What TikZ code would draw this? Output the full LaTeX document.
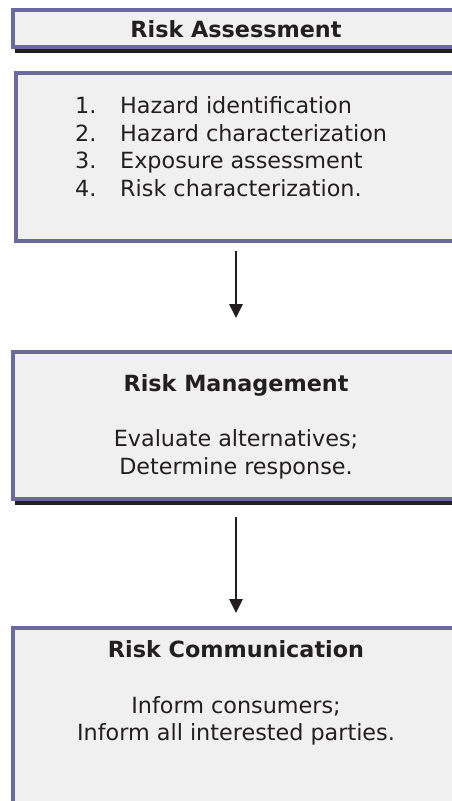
\documentclass[tikz,border=0pt]{standalone}
\usepackage{fontspec}
\setmainfont{DejaVu Sans}
\usetikzlibrary{arrows.meta}
\definecolor{boxfill}{HTML}{F0F0F0}
\definecolor{boxedge}{HTML}{6A6A9C}
\definecolor{ink}{HTML}{231F20}
\begin{document}
\begin{tikzpicture}[x=1pt,y=-1pt,
  panel/.style={fill=boxfill, draw=boxedge, line width=4pt, anchor=north west,
    inner sep=0pt, outer sep=0pt, minimum width=467pt},
  shade/.style={fill=ink, draw=none, anchor=north west, inner sep=0pt, outer sep=0pt},
  txt/.style={anchor=base, inner sep=0pt, text=ink, font=\fontsize{22.3}{27.8}\selectfont},
  hd/.style={txt, font=\fontsize{22.3}{27.8}\selectfont\bfseries},
  flow/.style={draw=ink, line width=2.7pt, -{Triangle[length=14pt,width=13pt]}}]
  \useasboundingbox (0,0) rectangle (452,801);

  % Risk Assessment title bar with drop shadow
  \node[shade, minimum width=469pt, minimum height=41pt] (s1) at (15,12) {};
  \node[panel, minimum height=37pt] (assess) at (13,10) {};
  \node[hd] (assesst) at (236,37.7) {Risk Assessment};

  % Assessment steps
  \node[panel, minimum height=167.7pt] (steps) at (16,73) {};
  \node[txt, anchor=base west] (n1) at (75,113.3) {1.};
  \node[txt, anchor=base west] (i1) at (120,113.3) {Hazard identification};
  \node[txt, anchor=base west] (n2) at (75,141.1) {2.};
  \node[txt, anchor=base west] (i2) at (120,141.1) {Hazard characterization};
  \node[txt, anchor=base west] (n3) at (75,168.9) {3.};
  \node[txt, anchor=base west] (i3) at (120,168.9) {Exposure assessment};
  \node[txt, anchor=base west] (n4) at (75,196.7) {4.};
  \node[txt, anchor=base west] (i4) at (120,196.7) {Risk characterization.};

  % Risk Management with drop shadow
  \node[shade, minimum width=469pt, minimum height=151pt] (s3) at (15,354) {};
  \node[panel, minimum height=147pt] (manage) at (13,352) {};
  \node[hd] (managet) at (236,391.7) {Risk Management};
  \node[txt] (m1) at (236,446.7) {Evaluate alternatives;};
  \node[txt] (m2) at (236,474.3) {Determine response.};

  % Risk Communication
  \node[panel, minimum height=200pt] (comm) at (13,628) {};
  \node[hd] (commt) at (236,657.7) {Risk Communication};
  \node[txt] (c1) at (236,713.3) {Inform consumers;};
  \node[txt] (c2) at (236,740.6) {Inform all interested parties.};

  % Flow between the stages
  \draw[flow, shorten <=10.3pt, shorten >=34pt] (steps.south -| assesst) -- (manage.north -| assesst);
  \draw[flow, shorten <=18pt, shorten >=15pt] (manage.south -| assesst) -- (comm.north -| assesst);
\end{tikzpicture}
\end{document}
